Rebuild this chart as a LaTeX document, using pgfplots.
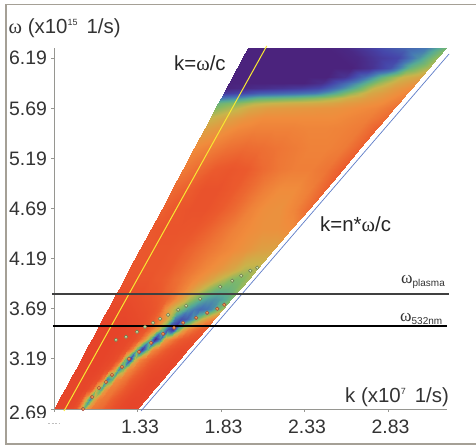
\documentclass[border=0pt]{standalone}
\usepackage{pgfplots}
\usepackage{pgfplotstable}
\usepackage{fontspec}
\pgfplotsset{compat=1.18}
\setmainfont{Liberation Sans}
\newfontfamily\sym{Liberation Serif}
\definecolor{axgray}{RGB}{150,150,145}
\definecolor{framegray}{RGB}{165,160,150}
\definecolor{yline}{RGB}{248,232,50}
\definecolor{bline}{RGB}{95,125,200}
\pgfplotstableread[row sep=\\]{
s w z\\
0 2.69 .05\\ .05 2.69 .05\\ .1 2.69 .05\\ .15 2.69 .05\\ .2 2.69 .06\\ .25 2.69 .1\\ .3 2.69 .28\\ .35 2.69 .6\\ .4 2.69 .34\\ .45 2.69 .24\\ .5 2.69 .22\\ .55 2.69 .2\\ .6 2.69 .16\\ .65 2.69 .14\\ .7 2.69 .1\\ .75 2.69 .08\\ .8 2.69 .06\\ .85 2.69 .05\\ .9 2.69 .04\\ .95 2.69 .04\\ 1 2.69 .05\\
0 2.79 .05\\ .05 2.79 .05\\ .1 2.79 .05\\ .15 2.79 .05\\ .2 2.79 .06\\ .25 2.79 .12\\ .3 2.79 .36\\ .35 2.79 .72\\ .4 2.79 .42\\ .45 2.79 .27\\ .5 2.79 .24\\ .55 2.79 .22\\ .6 2.79 .17\\ .65 2.79 .14\\ .7 2.79 .1\\ .75 2.79 .08\\ .8 2.79 .06\\ .85 2.79 .05\\ .9 2.79 .05\\ .95 2.79 .05\\ 1 2.79 .06\\
0 2.89 .05\\ .05 2.89 .05\\ .1 2.89 .05\\ .15 2.89 .05\\ .2 2.89 .05\\ .25 2.89 .07\\ .3 2.89 .16\\ .35 2.89 .46\\ .4 2.89 .64\\ .45 2.89 .36\\ .5 2.89 .26\\ .55 2.89 .24\\ .6 2.89 .2\\ .65 2.89 .16\\ .7 2.89 .12\\ .75 2.89 .09\\ .8 2.89 .07\\ .85 2.89 .06\\ .9 2.89 .05\\ .95 2.89 .05\\ 1 2.89 .06\\
0 2.99 .05\\ .05 2.99 .05\\ .1 2.99 .05\\ .15 2.99 .05\\ .2 2.99 .05\\ .25 2.99 .06\\ .3 2.99 .09\\ .35 2.99 .26\\ .4 2.99 .74\\ .45 2.99 .62\\ .5 2.99 .3\\ .55 2.99 .26\\ .6 2.99 .22\\ .65 2.99 .17\\ .7 2.99 .13\\ .75 2.99 .1\\ .8 2.99 .08\\ .85 2.99 .06\\ .9 2.99 .05\\ .95 2.99 .05\\ 1 2.99 .06\\
0 3.09 .04\\ .05 3.09 .04\\ .1 3.09 .04\\ .15 3.09 .04\\ .2 3.09 .04\\ .25 3.09 .05\\ .3 3.09 .07\\ .35 3.09 .11\\ .4 3.09 .3\\ .45 3.09 .72\\ .5 3.09 .56\\ .55 3.09 .3\\ .6 3.09 .25\\ .65 3.09 .19\\ .7 3.09 .15\\ .75 3.09 .11\\ .8 3.09 .08\\ .85 3.09 .07\\ .9 3.09 .06\\ .95 3.09 .05\\ 1 3.09 .06\\
0 3.19 .04\\ .05 3.19 .04\\ .1 3.19 .04\\ .15 3.19 .04\\ .2 3.19 .04\\ .25 3.19 .05\\ .3 3.19 .06\\ .35 3.19 .09\\ .4 3.19 .2\\ .45 3.19 .55\\ .5 3.19 .92\\ .55 3.19 .46\\ .6 3.19 .28\\ .65 3.19 .22\\ .7 3.19 .17\\ .75 3.19 .13\\ .8 3.19 .1\\ .85 3.19 .08\\ .9 3.19 .07\\ .95 3.19 .06\\ 1 3.19 .07\\
0 3.29 .04\\ .05 3.29 .04\\ .1 3.29 .04\\ .15 3.29 .04\\ .2 3.29 .04\\ .25 3.29 .05\\ .3 3.29 .06\\ .35 3.29 .07\\ .4 3.29 .12\\ .45 3.29 .26\\ .5 3.29 .58\\ .55 3.29 .92\\ .6 3.29 .6\\ .65 3.29 .3\\ .7 3.29 .24\\ .75 3.29 .18\\ .8 3.29 .13\\ .85 3.29 .1\\ .9 3.29 .08\\ .95 3.29 .07\\ 1 3.29 .08\\
0 3.39 .04\\ .05 3.39 .04\\ .1 3.39 .04\\ .15 3.39 .04\\ .2 3.39 .04\\ .25 3.39 .05\\ .3 3.39 .06\\ .35 3.39 .07\\ .4 3.39 .09\\ .45 3.39 .16\\ .5 3.39 .3\\ .55 3.39 .58\\ .6 3.39 .97\\ .65 3.39 .75\\ .7 3.39 .36\\ .75 3.39 .27\\ .8 3.39 .2\\ .85 3.39 .15\\ .9 3.39 .12\\ .95 3.39 .1\\ 1 3.39 .1\\
0 3.49 .04\\ .05 3.49 .04\\ .1 3.49 .04\\ .15 3.49 .04\\ .2 3.49 .04\\ .25 3.49 .05\\ .3 3.49 .06\\ .35 3.49 .07\\ .4 3.49 .09\\ .45 3.49 .13\\ .5 3.49 .22\\ .55 3.49 .36\\ .6 3.49 .56\\ .65 3.49 .84\\ .7 3.49 .95\\ .75 3.49 .62\\ .8 3.49 .38\\ .85 3.49 .27\\ .9 3.49 .2\\ .95 3.49 .16\\ 1 3.49 .15\\
0 3.59 .05\\ .05 3.59 .05\\ .1 3.59 .05\\ .15 3.59 .05\\ .2 3.59 .05\\ .25 3.59 .06\\ .3 3.59 .07\\ .35 3.59 .08\\ .4 3.59 .1\\ .45 3.59 .15\\ .5 3.59 .22\\ .55 3.59 .33\\ .6 3.59 .5\\ .65 3.59 .75\\ .7 3.59 .85\\ .75 3.59 .82\\ .8 3.59 .7\\ .85 3.59 .55\\ .9 3.59 .42\\ .95 3.59 .32\\ 1 3.59 .25\\
0 3.69 .06\\ .05 3.69 .06\\ .1 3.69 .06\\ .15 3.69 .06\\ .2 3.69 .07\\ .25 3.69 .08\\ .3 3.69 .09\\ .35 3.69 .1\\ .4 3.69 .12\\ .45 3.69 .17\\ .5 3.69 .3\\ .55 3.69 .42\\ .6 3.69 .52\\ .65 3.69 .6\\ .7 3.69 .68\\ .75 3.69 .74\\ .8 3.69 .78\\ .85 3.69 .76\\ .9 3.69 .72\\ .95 3.69 .6\\ 1 3.69 .5\\
0 3.79 .08\\ .05 3.79 .08\\ .1 3.79 .08\\ .15 3.79 .08\\ .2 3.79 .09\\ .25 3.79 .1\\ .3 3.79 .11\\ .35 3.79 .13\\ .4 3.79 .15\\ .45 3.79 .18\\ .5 3.79 .24\\ .55 3.79 .32\\ .6 3.79 .4\\ .65 3.79 .5\\ .7 3.79 .57\\ .75 3.79 .64\\ .8 3.79 .68\\ .85 3.79 .7\\ .9 3.79 .68\\ .95 3.79 .65\\ 1 3.79 .58\\
0 3.89 .1\\ .05 3.89 .1\\ .1 3.89 .1\\ .15 3.89 .1\\ .2 3.89 .1\\ .25 3.89 .12\\ .3 3.89 .13\\ .35 3.89 .15\\ .4 3.89 .18\\ .45 3.89 .2\\ .5 3.89 .24\\ .55 3.89 .28\\ .6 3.89 .34\\ .65 3.89 .4\\ .7 3.89 .47\\ .75 3.89 .53\\ .8 3.89 .58\\ .85 3.89 .6\\ .9 3.89 .6\\ .95 3.89 .58\\ 1 3.89 .52\\
0 3.99 .12\\ .05 3.99 .12\\ .1 3.99 .12\\ .15 3.99 .12\\ .2 3.99 .12\\ .25 3.99 .14\\ .3 3.99 .15\\ .35 3.99 .17\\ .4 3.99 .2\\ .45 3.99 .22\\ .5 3.99 .25\\ .55 3.99 .28\\ .6 3.99 .31\\ .65 3.99 .34\\ .7 3.99 .38\\ .75 3.99 .43\\ .8 3.99 .48\\ .85 3.99 .53\\ .9 3.99 .56\\ .95 3.99 .55\\ 1 3.99 .5\\
0 4.09 .13\\ .05 4.09 .13\\ .1 4.09 .13\\ .15 4.09 .13\\ .2 4.09 .13\\ .25 4.09 .14\\ .3 4.09 .15\\ .35 4.09 .17\\ .4 4.09 .19\\ .45 4.09 .22\\ .5 4.09 .24\\ .55 4.09 .27\\ .6 4.09 .29\\ .65 4.09 .31\\ .7 4.09 .33\\ .75 4.09 .36\\ .8 4.09 .39\\ .85 4.09 .43\\ .9 4.09 .47\\ .95 4.09 .5\\ 1 4.09 .48\\
}\lowerfield
\pgfplotstableread[row sep=\\]{
s w z\\
0 4.09 .13\\ .1 4.09 .13\\ .2 4.09 .13\\ .3 4.09 .15\\ .4 4.09 .19\\ .5 4.09 .24\\ .6 4.09 .29\\ .7 4.09 .33\\ .8 4.09 .39\\ .9 4.09 .47\\ 1 4.09 .48\\
0 4.29 .14\\ .1 4.29 .13\\ .2 4.29 .13\\ .3 4.29 .15\\ .4 4.29 .19\\ .5 4.29 .23\\ .6 4.29 .27\\ .7 4.29 .3\\ .8 4.29 .33\\ .9 4.29 .37\\ 1 4.29 .38\\
0 4.49 .14\\ .1 4.49 .12\\ .2 4.49 .12\\ .3 4.49 .13\\ .4 4.49 .17\\ .5 4.49 .22\\ .6 4.49 .27\\ .7 4.49 .3\\ .8 4.49 .32\\ .9 4.49 .32\\ 1 4.49 .3\\
0 4.69 .17\\ .1 4.69 .13\\ .2 4.69 .11\\ .3 4.69 .11\\ .4 4.69 .15\\ .5 4.69 .2\\ .6 4.69 .27\\ .7 4.69 .31\\ .8 4.69 .32\\ .9 4.69 .28\\ 1 4.69 .2\\
0 4.89 .2\\ .1 4.89 .16\\ .2 4.89 .11\\ .3 4.89 .11\\ .4 4.89 .15\\ .5 4.89 .2\\ .6 4.89 .26\\ .7 4.89 .3\\ .8 4.89 .3\\ .9 4.89 .26\\ 1 4.89 .17\\
0 5.09 .25\\ .1 5.09 .2\\ .2 5.09 .15\\ .3 5.09 .13\\ .4 5.09 .15\\ .5 5.09 .2\\ .6 5.09 .24\\ .7 5.09 .26\\ .8 5.09 .26\\ .9 5.09 .23\\ 1 5.09 .15\\
0 5.29 .3\\ .1 5.29 .26\\ .2 5.29 .22\\ .3 5.29 .2\\ .4 5.29 .21\\ .5 5.29 .23\\ .6 5.29 .25\\ .7 5.29 .27\\ .8 5.29 .27\\ .9 5.29 .25\\ 1 5.29 .17\\
0 5.49 .38\\ .1 5.49 .33\\ .2 5.49 .29\\ .3 5.49 .27\\ .4 5.49 .27\\ .5 5.49 .27\\ .6 5.49 .28\\ .7 5.49 .28\\ .8 5.49 .27\\ .9 5.49 .25\\ 1 5.49 .17\\
0 5.59 .45\\ .1 5.59 .38\\ .2 5.59 .33\\ .3 5.59 .3\\ .4 5.59 .3\\ .5 5.59 .3\\ .6 5.59 .3\\ .7 5.59 .3\\ .8 5.59 .28\\ .9 5.59 .26\\ 1 5.59 .2\\
0 5.69 .55\\ .1 5.69 .48\\ .2 5.69 .4\\ .3 5.69 .36\\ .4 5.69 .35\\ .5 5.69 .34\\ .6 5.69 .33\\ .7 5.69 .32\\ .8 5.69 .3\\ .9 5.69 .28\\ 1 5.69 .22\\
0 5.74 .6\\ .1 5.74 .55\\ .2 5.74 .48\\ .3 5.74 .45\\ .4 5.74 .43\\ .5 5.74 .42\\ .6 5.74 .4\\ .7 5.74 .36\\ .8 5.74 .33\\ .9 5.74 .3\\ 1 5.74 .24\\
0 5.79 .75\\ .1 5.79 .7\\ .2 5.79 .62\\ .3 5.79 .6\\ .4 5.79 .58\\ .5 5.79 .55\\ .6 5.79 .5\\ .7 5.79 .42\\ .8 5.79 .36\\ .9 5.79 .32\\ 1 5.79 .26\\
0 5.84 .92\\ .1 5.84 .88\\ .2 5.84 .82\\ .3 5.84 .8\\ .4 5.84 .78\\ .5 5.84 .75\\ .6 5.84 .65\\ .7 5.84 .52\\ .8 5.84 .4\\ .9 5.84 .34\\ 1 5.84 .28\\
0 5.89 1\\ .1 5.89 .98\\ .2 5.89 .96\\ .3 5.89 .94\\ .4 5.89 .92\\ .5 5.89 .88\\ .6 5.89 .76\\ .7 5.89 .62\\ .8 5.89 .45\\ .9 5.89 .36\\ 1 5.89 .3\\
0 5.94 1\\ .1 5.94 1\\ .2 5.94 1\\ .3 5.94 1\\ .4 5.94 1\\ .5 5.94 .96\\ .6 5.94 .82\\ .7 5.94 .68\\ .8 5.94 .52\\ .9 5.94 .4\\ 1 5.94 .33\\
0 6.00 1\\ .1 6.00 1\\ .2 6.00 1\\ .3 6.00 1\\ .4 6.00 1\\ .5 6.00 1\\ .6 6.00 .94\\ .7 6.00 .78\\ .8 6.00 .6\\ .9 6.00 .45\\ 1 6.00 .38\\
0 6.09 1\\ .1 6.09 1\\ .2 6.09 1\\ .3 6.09 1\\ .4 6.09 1\\ .5 6.09 1\\ .6 6.09 1\\ .7 6.09 .95\\ .8 6.09 .85\\ .9 6.09 .6\\ 1 6.09 .48\\
0 6.19 1\\ .1 6.19 1\\ .2 6.19 1\\ .3 6.19 1\\ .4 6.19 1\\ .5 6.19 1\\ .6 6.19 .98\\ .7 6.19 .92\\ .8 6.19 .88\\ .9 6.19 .7\\ 1 6.19 .52\\
0 6.293 1\\ .1 6.293 1\\ .2 6.293 1\\ .3 6.293 1\\ .4 6.293 1\\ .5 6.293 .98\\ .6 6.293 .92\\ .7 6.293 .85\\ .8 6.293 .8\\ .9 6.293 .75\\ 1 6.293 .58\\
}\upperfield
\pgfplotsset{
  fieldstyle/.style={patch, patch type=rectangle, shader=interp, mesh input=lattice, point meta=explicit},
  fieldmap/.style={colormap={fieldmap}{
    rgb255(0)=(228,60,40) rgb255(15)=(235,90,45) rgb255(30)=(240,140,60)
    rgb255(45)=(200,180,75) rgb255(55)=(130,185,100) rgb255(65)=(85,170,150)
    rgb255(75)=(70,120,180) rgb255(88)=(70,70,170) rgb255(100)=(75,35,125)}},
}
\begin{document}
\begin{tikzpicture}[x=1bp,y=1bp]
\fontsize{20.5}{22}\selectfont
\path[use as bounding box] (0,0) rectangle (476,445);
\draw[framegray,line width=1.4bp] (476,440.5) -- (6,440.5) -- (6,1) -- (476,1);
\begin{axis}[
  at={(54bp,36bp)}, anchor=south west,
  scale only axis, width=393bp, height=361bp,
  xmin=0.83, xmax=3.183, ymin=2.69, ymax=6.293,
  clip=false, fieldmap, point meta min=0, point meta max=1,
  axis x line*=bottom, axis y line*=left,
  axis line style={axgray,-,line width=0.9bp},
  xtick={0.83,1.33,1.83,2.33,2.83},
  xticklabels={,1.33,1.83,2.33,2.83},
  ytick={2.69,3.19,3.69,4.19,4.69,5.19,5.69,6.19},
  yticklabels={\raisebox{-4bp}[\height][0pt]{2.69},3.19,3.69,4.19,4.69,5.19,5.69,6.19},
  tick style={axgray,line width=0.9bp},
  tick align=outside, major tick length=3bp,
  xticklabel style={font=\fontsize{19.5}{21}\selectfont,text=black!80,xshift=2.5bp,yshift=-1bp},
  yticklabel style={font=\fontsize{19.5}{21}\selectfont,text=black!80,xshift=3bp},
]
\addplot[fieldstyle, mesh/cols=21] table[x expr=0.83+(\thisrow{w}-2.69)*0.3222+\thisrow{s}*(0.497+(\thisrow{w}-2.69)*0.1914), y=w, meta=z] {\lowerfield};
\addplot[fieldstyle, mesh/cols=11] table[x expr=0.83+(\thisrow{w}-2.69)*0.3222+\thisrow{s}*(0.497+(\thisrow{w}-2.69)*0.1914), y=w, meta=z] {\upperfield};
\addplot[yline, line width=1bp] coordinates {(0.89,2.67) (2.1037,6.313)};
\addplot[bline, line width=0.7bp] coordinates {(1.351,2.67) (3.195,6.233)};
\addplot[black!75, line width=1.4bp] coordinates {(0.818,3.838) (3.195,3.838)};
\addplot[black, line width=1.2bp] coordinates {(0.824,3.518) (3.183,3.518)};
% lower series of points
\addplot[only marks, mark=*, mark size=1.7bp, mark options={draw={rgb,255:red,170;green,70;blue,60}, fill={rgb,255:red,240;green,175;blue,80}, line width=0.6bp}] coordinates {
 (1.004,2.69) (1.058,2.81) (1.099,2.90) (1.141,2.96) (1.177,3.03) (1.237,3.11) (1.279,3.19) (1.339,3.26)
 (1.411,3.35) (1.483,3.44) (1.549,3.50) (1.603,3.55) (1.681,3.60) (1.747,3.65) (1.807,3.69) (1.849,3.73)};
% upper series of points
\addplot[only marks, mark=*, mark size=1.7bp, mark options={draw={rgb,255:red,110;green,125;blue,80}, fill={rgb,255:red,215;green,235;blue,175}, line width=0.6bp}] coordinates {
 (1.201,3.38) (1.261,3.41) (1.327,3.46) (1.375,3.51) (1.423,3.55) (1.465,3.59) (1.513,3.63) (1.573,3.68)
 (1.621,3.72) (1.705,3.79) (1.825,3.91) (1.897,3.97) (1.951,4.02) (2.005,4.07) (2.047,4.10)};
\end{axis}
% patch hiding the foot of the lowest tick label
\fill[white] (30,445-432) rectangle (52,445-418);
\draw[black!25,dash pattern=on 2bp off 1.5bp,line width=0.5bp] (48,445-423) -- (60,445-423);
% axis titles and annotations
\node[anchor=base west,inner sep=0,text=black!80] at (8.5,445-34) {{\sym ω} (x10\raisebox{8.5bp}{\fontsize{9}{9}\selectfont 15}\hspace{9bp}1/s)};
\node[anchor=base east,inner sep=0,text=black!80] at (449,445-403) {k (x10\raisebox{8.5bp}{\fontsize{9}{9}\selectfont 7}\hspace{9bp}1/s)};
\node[anchor=base west,inner sep=0,text=black!85] at (174,445-71) {k={\sym ω}/c};
\node[anchor=base west,inner sep=0,text=black!85] at (320,445-232) {k=n*{\sym ω}/c};
\node[anchor=base west,inner sep=0,text=black!80] at (401,445-284) {{\sym\fontsize{17.5}{17}\selectfont ω}\raisebox{-2.5bp}{\fontsize{10}{10}\selectfont plasma}};
\node[anchor=base west,inner sep=0,text=black!80] at (400,445-322) {{\sym\fontsize{17.5}{17}\selectfont ω}\raisebox{-2.5bp}{\fontsize{10}{10}\selectfont 532nm}};
\end{tikzpicture}
\end{document}
